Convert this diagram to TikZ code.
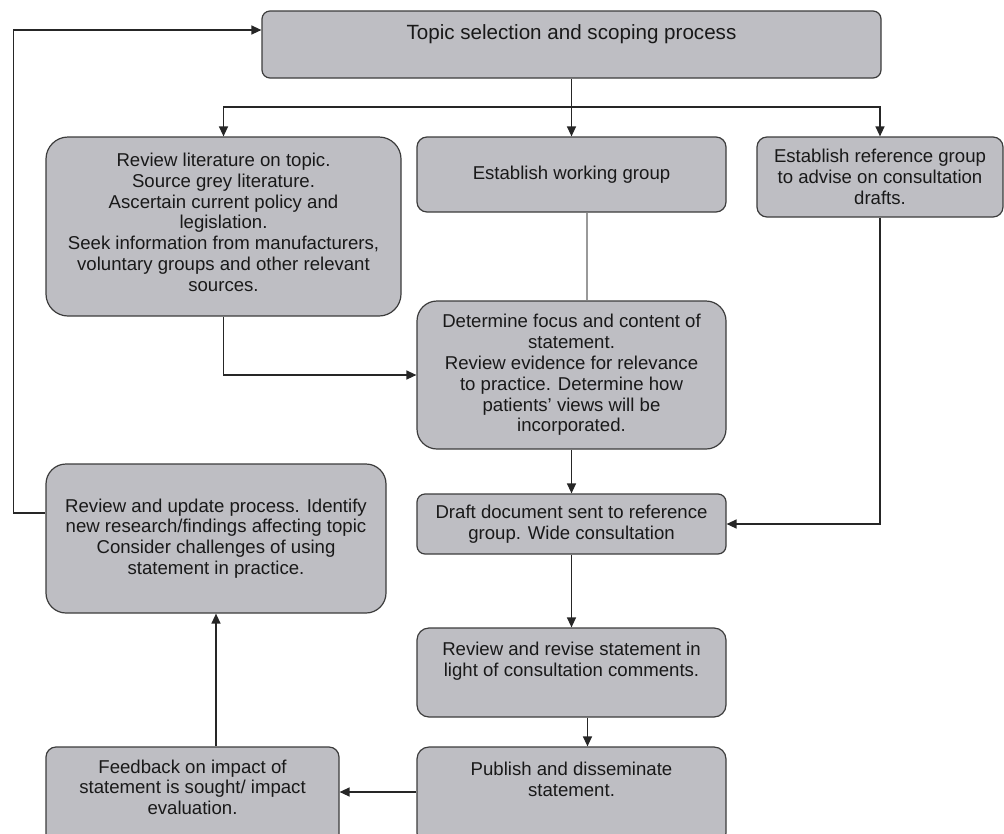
\documentclass[tikz,border=0pt]{standalone}
\usepackage{fontspec}
\setmainfont{Liberation Sans}
\usetikzlibrary{arrows.meta}
\definecolor{boxFill}{RGB}{190,190,195}
\definecolor{boxDraw}{RGB}{60,60,60}
\begin{document}
\begin{tikzpicture}[x=1pt, y=-1pt,
    boxStyle/.style={draw=boxDraw, fill=boxFill, line width=1.2pt, rounded corners=10pt, align=center, inner sep=0pt, text=black!90, font={\fontsize{18.6}{20.8}\selectfont}},
    arrowStyle/.style={draw=black!85, line width=1.3pt, -{Triangle[length=10pt, width=9pt]}},
    grayStyle/.style={draw=black!40, line width=1.3pt}]
    \useasboundingbox (0, 0) rectangle (1004, 833);
    \clip (0, 0) rectangle (1004, 833);

    \node[boxStyle, minimum width=619, minimum height=67, rounded corners=8pt, font={\fontsize{20.6}{23}\selectfont}](topic) at (571.5, 44.5) {Topic selection and scoping process\\[2pt]};
    \node[boxStyle, minimum width=355, minimum height=179, rounded corners=22pt](review) at (223.5, 226.5) {Review literature on topic.\\Source grey literature.\\Ascertain current policy and\\legislation.\\Seek information from manufacturers,\\voluntary groups and other relevant\\sources.\\[-12pt]};
    \node[boxStyle, minimum width=309, minimum height=75](working) at (571.5, 174.5) {Establish working group};
    \node[boxStyle, minimum width=246, minimum height=80](reference) at (880, 177) {Establish reference group\\to advise on consultation\\drafts.};
    \node[boxStyle, minimum width=309, minimum height=148, rounded corners=20pt](focus) at (571.5, 375) {Determine focus and content of\\statement.\\Review evidence for relevance\\to practice. Determine how\\patients’ views will be\\incorporated.};
    \node[boxStyle, minimum width=340, minimum height=149, rounded corners=20pt](update) at (216, 538.5) {Review and update process. Identify\\new research/findings affecting topic\\Consider challenges of using\\statement in practice.};
    \node[boxStyle, minimum width=309, minimum height=60, rounded corners=8pt](draft) at (571.5, 524) {Draft document sent to reference\\group. Wide consultation};
    \node[boxStyle, minimum width=309, minimum height=89, rounded corners=12pt](revise) at (571.5, 672.5) {Review and revise statement in\\light of consultation comments.\\[6pt]};
    \node[boxStyle, minimum width=309, minimum height=98, rounded corners=12pt](publish) at (571.5, 796) {Publish and disseminate\\statement.\\[13pt]};
    \node[boxStyle, minimum width=293, minimum height=98](feedback) at (192.5, 796) {Feedback on impact of\\statement is sought/ impact\\evaluation.\\[-3pt]};

    \coordinate (split) at (571.5, 107);
    \draw[arrowStyle] (topic.south) -- (working.north);
    \draw[arrowStyle] (split) -| (review.north);
    \draw[arrowStyle] (split) -| (reference.north);
    \draw[grayStyle] ([xshift=15.5pt]working.south) -- ([xshift=15.5pt]focus.north);
    \draw[arrowStyle] (review.south) |- (focus.west);
    \draw[arrowStyle] (focus.south) -- (draft.north);
    \draw[arrowStyle] (reference.south) |- (draft.east);
    \draw[arrowStyle] (draft.south) -- (revise.north);
    \draw[arrowStyle] ([xshift=16pt]revise.south) -- ([xshift=16pt]publish.north);
    \draw[arrowStyle] ([yshift=4pt]publish.west) -- ([yshift=4pt]feedback.east);
    \draw[arrowStyle] (feedback.north -| update.south) -- (update.south);
    \draw[arrowStyle] ([yshift=25.5pt]update.west) -- ++(-32, 0) |- ([yshift=14.5pt]topic.west);
\end{tikzpicture}
\end{document}
